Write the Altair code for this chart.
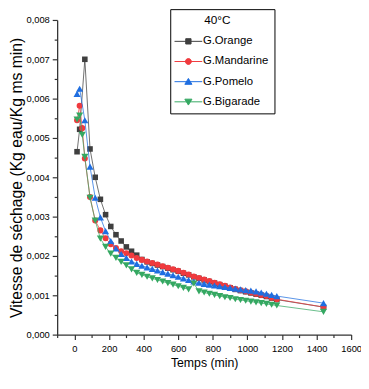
import altair as alt
import pandas as pd

# ---------------- data (values in 1e-3 Kg eau/Kg ms min) ----------------
times = [15, 30, 45, 60, 90, 120, 150, 180, 210, 240, 270, 300, 330, 360, 390,
         420, 450, 480, 510, 540, 570, 600, 630, 660, 690, 720, 750, 780, 810,
         840, 870, 900, 930, 960, 990, 1020, 1050, 1080, 1110, 1140, 1170, 1440]

orange = [4.65, 5.22, None, 7.00, 4.72, 4.00, 3.44, 3.05, 2.75, 2.54, 2.38, 2.23,
          2.12, 2.02, 1.91, 1.85, 1.81, 1.77, 1.73, 1.69, 1.65, 1.61, 1.56, 1.52,
          1.47, 1.43, 1.39, 1.35, 1.31, 1.27, 1.23, 1.19, 1.15, 1.12, 1.09, 1.06,
          1.03, 1.00, 0.97, 0.93, 0.89, 0.70]

mandarine = [5.45, 5.82, 5.25, 4.48, 3.50, 2.90, 2.65, 2.45, 2.30, 2.20, 2.12,
             2.07, 2.01, 1.95, 1.90, 1.86, 1.82, 1.78, 1.74, 1.70, 1.66, 1.62,
             1.57, 1.53, 1.48, 1.44, 1.40, 1.36, 1.32, 1.28, 1.24, 1.20, 1.16,
             1.13, 1.10, 1.07, 1.04, 1.01, 0.98, 0.94, 0.90, 0.70]

pomelo = [6.12, 6.25, None, 5.45, 4.27, 3.48, 2.98, 2.63, 2.38, 2.19, 2.05, 1.95,
          1.86, 1.80, 1.75, 1.71, 1.67, 1.63, 1.59, 1.55, 1.51, 1.47, 1.43, 1.39,
          1.35, 1.32, 1.29, 1.27, 1.25, 1.23, 1.21, 1.19, 1.17, 1.15, 1.13, 1.12,
          1.10, 1.07, 1.04, 1.01, 0.98, 0.80]

bigarade = [5.47, 5.57, 5.08, 4.52, 3.48, 2.90, 2.44, 2.23, 2.06, 1.95, 1.85, 1.76,
            1.66, 1.57, 1.52, 1.47, 1.43, 1.39, 1.35, 1.31, 1.27, 1.23, 1.19, 1.15,
            1.30, 1.10, 1.07, 1.04, 1.01, 0.98, 0.95, 0.93, 0.90, 0.88, 0.86, 0.84,
            0.82, 0.80, 0.78, 0.76, 0.74, 0.58]

series = ["G.Orange", "G.Mandarine", "G.Pomelo", "G.Bigarade"]
colors = ["#3f3f3f", "#f03a3e", "#1f6ee0", "#35a862"]
shapes = ["square", "circle", "triangle-up", "triangle-down"]
sizes = [32, 38, 52, 52]

x_major = [0, 200, 400, 600, 800, 1000, 1200, 1400, 1600]
x_minor = [-100, 100, 300, 500, 700, 900, 1100, 1300, 1500]
y_major = [0.0, 0.001, 0.002, 0.003, 0.004, 0.005, 0.006, 0.007, 0.008]
y_minor = [0.0005, 0.0015, 0.0025, 0.0035, 0.0045, 0.0055, 0.0065, 0.0075]

legend_paths = [
    "M-4.7,0H4.7M-0.9,-0.9H0.9V0.9H-0.9Z",
    "M-4.7,0H4.7M1,0A1,1,0,1,1,-1,0A1,1,0,1,1,1,0Z",
    "M-4.7,0H4.7M0,-1.1L-1.2,0.9L1.2,0.9Z",
    "M-4.7,0H4.7M0,1.1L-1.2,-0.9L1.2,-0.9Z",
]

rows = []
for name, vals in zip(series, [orange, mandarine, pomelo, bigarade]):
    for t, v in zip(times, vals):
        if v is not None:
            rows.append({"t": t, "v": v / 1000.0, "s": name})
df = pd.DataFrame(rows)

FONT = "Liberation Sans"
xscale = alt.Scale(domain=[-100, 1600], nice=False, zero=False)
yscale = alt.Scale(domain=[0, 0.008], nice=False, zero=False)

base = alt.Chart(df)
layers = []

leg = alt.Legend(
    title="\u2800\u2800\u2800\u200a40°C", orient="none", legendX=115, legendY=-11,
    strokeColor="black", fillColor="white", padding=6, cornerRadius=0,
    symbolSize=36, symbolStrokeWidth=1, symbolOffset=6.7, labelOffset=9,
    labelFont=FONT, labelFontSize=11.5, labelColor="black",
    titleFont=FONT, titleFontSize=12, titleFontWeight="normal", titleColor="black",
    rowPadding=7.5, titlePadding=9,
)
axis_layer = base.transform_filter("datum.t < -1000").mark_point(
    filled=True, opacity=1, strokeWidth=1
).encode(
    x=alt.X("t:Q", scale=xscale, axis=alt.Axis(
        orient="bottom", values=x_major, format="d", title="Temps (min)",
        titleFont=FONT, titleFontSize=12.5, titleFontWeight="normal", titleColor="black",
        titlePadding=4, labelFont=FONT, labelFontSize=9.5, labelColor="black",
        labelPadding=4, labelFlush=False, tickSize=5, tickColor="#333",
        tickWidth=1.2, domainColor="#333", domainWidth=1.3, grid=False)),
    y=alt.Y("v:Q", scale=yscale, axis=alt.Axis(
        orient="left", values=y_major, format=".3f",
        labelExpr="replace(datum.label, '.', ',')",
        title="Vitesse de séchage (Kg eau/Kg ms min)",
        titleFont=FONT, titleFontSize=16, titleFontWeight="normal", titleColor="black",
        titlePadding=1, labelFont=FONT, labelFontSize=9.5, labelColor="black",
        labelPadding=3, tickSize=5, tickColor="#333", tickWidth=1.2,
        domainColor="#333", domainWidth=1.3, grid=False)),
    shape=alt.Shape("s:N", scale=alt.Scale(domain=series, range=legend_paths), legend=leg),
    fill=alt.Fill("s:N", scale=alt.Scale(domain=series, range=colors), legend=leg),
    stroke=alt.Stroke("s:N", scale=alt.Scale(domain=series, range=colors), legend=leg),
)
layers.append(axis_layer)

minor_layer = base.transform_filter("datum.t < -1000").mark_point().encode(
    x=alt.X("t:Q", scale=xscale, axis=alt.Axis(
        orient="bottom", values=x_minor, labels=False, domain=False, tickSize=3,
        tickColor="#333", tickWidth=1.2, grid=False, title=None)),
    y=alt.Y("v:Q", scale=yscale, axis=alt.Axis(
        orient="left", values=y_minor, labels=False, domain=False, tickSize=3,
        tickColor="#333", tickWidth=1.2, grid=False, title=None)),
)
layers.append(minor_layer)

for name, col, shp, sz in zip(series, colors, shapes, sizes):
    sub = base.transform_filter(alt.datum.s == name)
    enc = dict(x=alt.X("t:Q", scale=xscale, axis=None),
               y=alt.Y("v:Q", scale=yscale, axis=None))
    layers.append(sub.mark_line(color=col, strokeWidth=1, opacity=0.75).encode(**enc))
    layers.append(sub.mark_point(filled=True, shape=shp, size=sz, color=col,
                                 opacity=1).encode(**enc))

chart = alt.layer(*layers).resolve_axis(x="independent", y="independent").properties(
    width=299, height=320,
    autosize=alt.AutoSizeParams(type="none"),
    padding={"left": 50, "top": 9, "right": 10, "bottom": 44},
).configure_view(stroke=None)

chart.save("out.html", embed_options={"renderer": "svg", "actions": False})
